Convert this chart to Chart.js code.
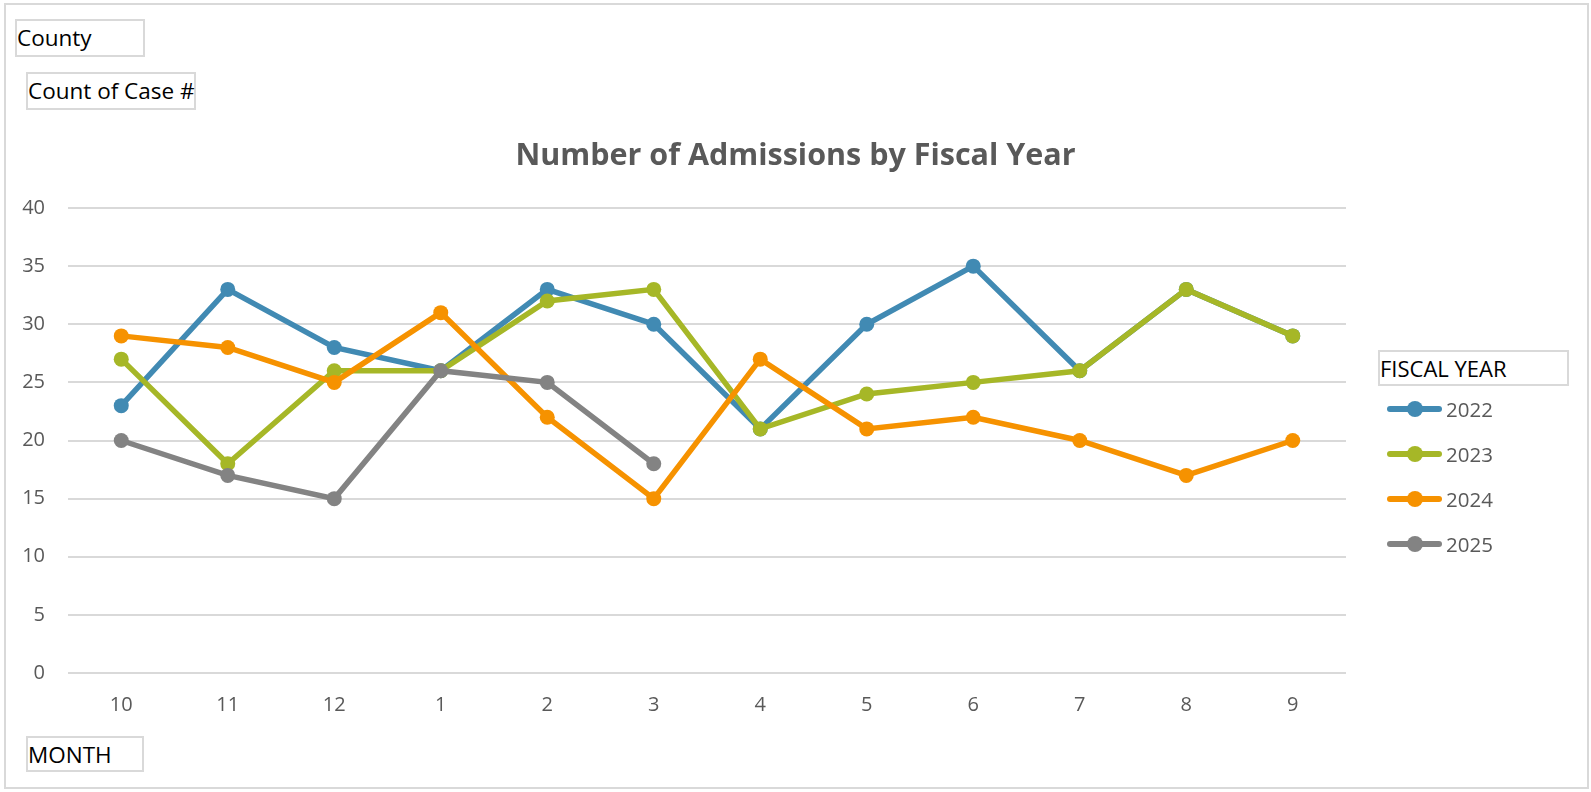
<!DOCTYPE html>
<html>
<head>
<meta charset="utf-8">
<script src="https://cdn.jsdelivr.net/npm/chart.js@4.4.1/dist/chart.umd.min.js"></script>
<style>
  html, body { margin: 0; padding: 0; background: #fff; }
  body { width: 1591px; height: 792px; position: relative; overflow: hidden; font-family: "Open Sans", sans-serif; }
  #frame { position: absolute; left: 4px; top: 3px; width: 1581px; height: 782px; border: 2px solid #d9d9d9; }
  #wrap { position: absolute; left: 0; top: 0; width: 1591px; height: 792px; }
  .btn { position: absolute; box-sizing: border-box; border: 2px solid #d9d9d9; color: #000; font-size: 22.5px; line-height: 33px; padding-left: 0px; white-space: nowrap; background: #fff; }
  #title { position: absolute; left: 0; width: 1591px; top: 132px; text-align: center; font-weight: 700; font-size: 30.5px; color: #595959; }
  #legend { position: absolute; left: 1387px; top: 390px; }
  .item { position: relative; height: 45px; }
  .item .ln { position: absolute; left: 0; top: 16px; width: 55px; height: 6px; border-radius: 3px; }
  .item .dot { position: absolute; left: 20px; top: 11px; width: 16px; height: 16px; border-radius: 50%; }
  .item .tx { position: absolute; left: 59px; top: 3px; font-size: 20.5px; color: #595959; line-height: 32px; }
</style>
</head>
<body>
<div id="frame"></div>
<div id="wrap"><canvas id="chart" width="1591" height="792"></canvas></div>
<div class="btn" style="left:15px;top:19px;width:130px;height:38px;">County</div>
<div class="btn" style="left:26px;top:72px;width:170px;height:38px;">Count of Case #</div>
<div class="btn" style="left:26px;top:736px;width:118px;height:36px;">MONTH</div>
<div class="btn" style="left:1378px;top:350px;width:191px;height:36px;font-size:22px;">FISCAL YEAR</div>
<div id="title">Number of Admissions by Fiscal Year</div>
<div id="legend"></div>
<script>
const months = ['10', '11', '12', '1', '2', '3', '4', '5', '6', '7', '8', '9'];
const years = ['2022', '2023', '2024', '2025'];
const fy2022 = [23, 33, 28, 26, 33, 30, 21, 30, 35, 26, 33, 29];
const fy2023 = [27, 18, 26, 26, 32, 33, 21, 24, 25, 26, 33, 29];
const fy2024 = [29, 28, 25, 31, 22, 15, 27, 21, 22, 20, 17, 20];
const fy2025 = [20, 17, 15, 26, 25, 18];
const yTicks = [0, 5, 10, 15, 20, 25, 30, 35, 40];
const colors = ['#418ab3', '#a6b727', '#f69200', '#838383'];

const series = [fy2022, fy2023, fy2024, fy2025];

const ctx = document.getElementById('chart').getContext('2d');
const chart = new Chart(ctx, {
    type: 'line',
    data: {
        labels: months,
        datasets: series.map((vals, i) => ({
            label: years[i],
            data: vals,
            order: series.length - i, // later years drawn on top, like the original
            borderColor: colors[i],
            backgroundColor: colors[i],
            borderWidth: 5.5,
            pointRadius: 7.5,
            pointHoverRadius: 7.5,
            pointBorderWidth: 0,
            tension: 0,
            fill: false
        }))
    },
    options: {
        responsive: false,
        animation: false,
        layout: { padding: { left: 0, top: 208, right: 245, bottom: 59 } },
        plugins: {
            legend: { display: false },
            title: { display: false },
            tooltip: { enabled: false }
        },
        scales: {
            x: {
                offset: true,
                grid: { display: false, drawTicks: false },
                border: { display: false },
                ticks: { color: '#595959', font: { family: 'Open Sans', size: 20 }, padding: 20, maxRotation: 0 },
                afterFit: function(scale) { scale.height = 60; }
            },
            y: {
                min: 0,
                max: 40,
                afterBuildTicks: function(scale) { scale.ticks = yTicks.map(v => ({ value: v })); },
                grid: { color: '#d9d9d9', lineWidth: 2, drawTicks: false },
                border: { display: false },
                ticks: { color: '#595959', font: { family: 'Open Sans', size: 20 }, padding: 23 },
                afterFit: function(scale) { scale.width = 68; }
            }
        }
    }
});

// legend built from the same arrays
const legend = document.getElementById('legend');
years.forEach((y, i) => {
    const it = document.createElement('div');
    it.className = 'item';
    it.innerHTML = '<div class="ln" style="background:' + colors[i] + '"></div>' +
                   '<div class="dot" style="background:' + colors[i] + '"></div>' +
                   '<div class="tx">' + y + '</div>';
    legend.appendChild(it);
});
</script>
</body>
</html>
